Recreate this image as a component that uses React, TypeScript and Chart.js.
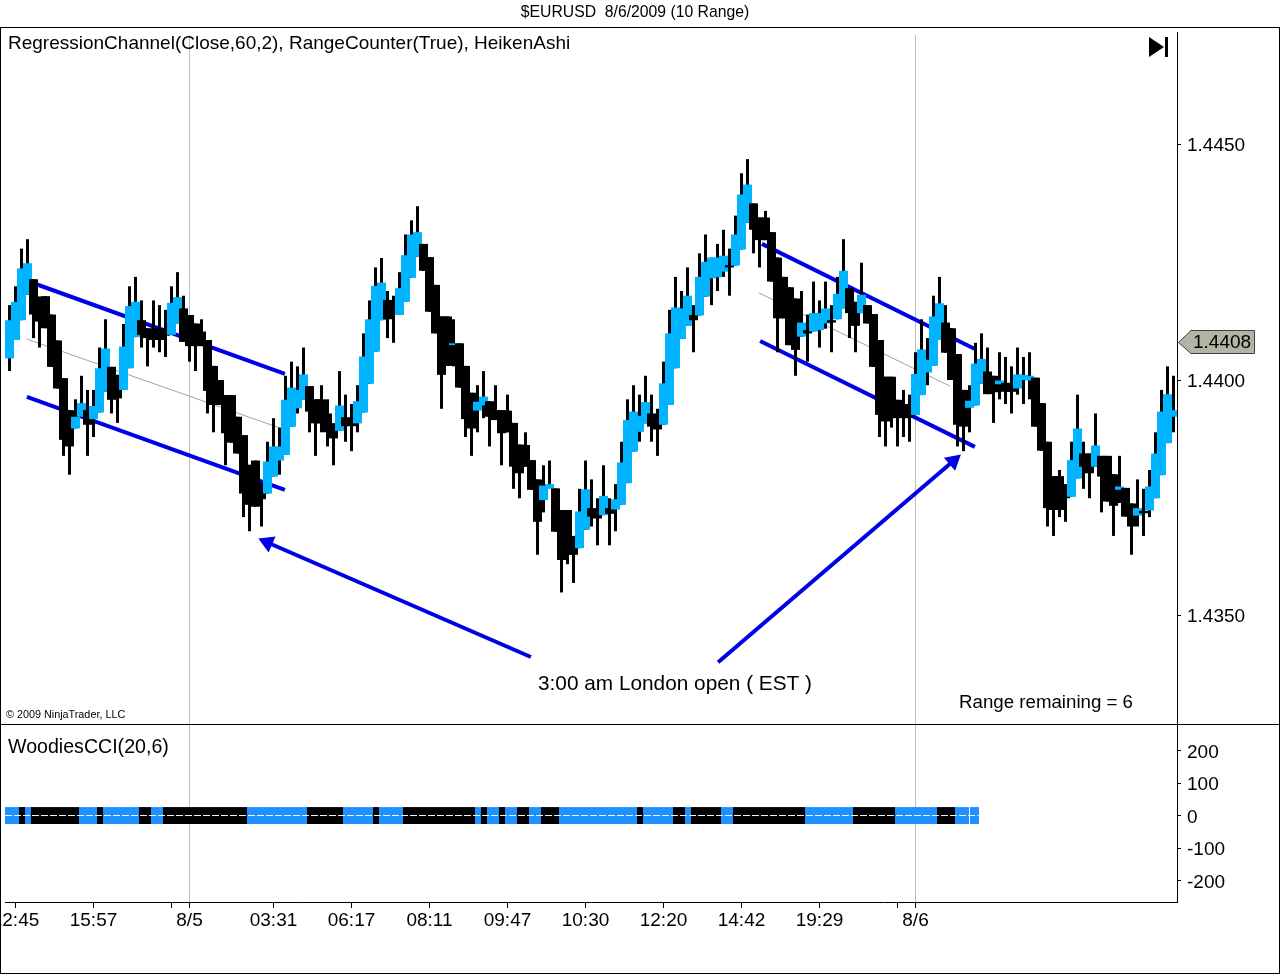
import { useEffect, useRef } from "react";
import { Chart, registerables } from "chart.js";

Chart.register(...registerables);

// all price series are in pips from 1.4400, one entry per range bar
const highs = [
  16, 20, 28, 30, 21.5, 17.8, 17.9, 14, 8.5, 0.5, -6.3, -4, 1, -2, -2, 7, 13, 2.9, 1.2, 12,
  20, 22, 17, 11.1, 17, 16, 15, 20, 23, 18, 13.9, 12.1, 13, 8.6, 3.1, 0.1, -3.1, -3.1, -7.7, -11.6,
  -17.9, -17, -21.8, -13, -8, -10, 1, 4, 3, 7, -1.2, -4, -1, -4, -9.1, 2, -3, -5, -1, 10,
  17, 24, 26, 19, 18, 23, 31, 34, 37, 29, 26.2, 20.3, 13.6, 13.6, 13, 7.9, 3.1, -2.6, -1, 2,
  -4.4, -1, -6.3, -3, -9, -13.6, -11, -16.9, -21, -18, -17, -22.9, -27.5, -27.5, -33, -23, -17, -21, -25, -18,
  -25, -22, -13, -4, -1, -3, 1, -3, -6, 4, 15, 22, 19, 24, 16, 27, 31, 26.1, 29, 32,
  28, 35, 44, 47, 37.6, 34.6, 36, 31.5, 26.1, 22, 19.8, 17.4, 19, 14, 21, 17, 21, 16, 22, 30,
  19.6, 16.7, 25, 16, 14.1, 8.6, 0.8, 0.8, -4.1, -2, -3, 6, 13, 9, 18, 22, 16, 11.1, 5.6, -2,
  -1, 8, 10, 7, 1, 6, 5, 3, 7, 5, 6, 0.6, -4.8, -13, -20.3, -19, -22, -13, -3, -13,
  -15.5, -7, -16, -16, -19.9, -16, -22.8, -26.1, -21, -23, -19, -11, -2, 3, 1,
];
const lows = [
  2, 8.6, 12.8, 18.2, 9, 7, 11.1, 2.9, -1.7, -16, -20, -10.2, -7.7, -16, -12, -6.8, -2.4, -7, -9, -2,
  2.6, 9.2, 7, 3, 7, 6, 5, 9.7, 12.1, 8.2, 4, 2, 7.3, -7, -11, -5.2, -18, -13.2, -15.5, -29,
  -32, -26.8, -31, -24, -20.4, -20, -15.8, -9.8, -7, -4.1, -11, -16, -11, -14, -18, -10.7, -13, -15, -11, -6.8,
  -0.7, 6.1, 12.8, 9, 8, 13.9, 16.7, 21.8, 26.3, 23.3, 14.6, 10, -6, 3.1, 3, -1.5, -12, -16, -11, -8,
  -14, -8.4, -18, -11, -23, -25, -18.3, -23.2, -37, -28, -22.9, -32.1, -45, -39, -43, -35.6, -31.7, -31, -35, -28.6,
  -35, -32, -26.4, -21.8, -15.1, -13, -9.1, -13, -16, -9.4, -5.2, 2.6, 8.8, 11.6, 6, 13.8, 17.8, 16, 19, 22,
  18, 24.4, 27.8, 33.5, 27, 24, 29.8, 21, 6, 13.2, 7.5, 1, 9.3, 4, 10.4, 7, 11, 6, 13, 15.3,
  9, 6, 14.3, 12.1, 2.9, -12, -14, -10, -14, -12, -13, -7.3, -3.1, -1, 3.1, 8.6, 5.9, 0.1, -14, -15,
  -11, -5.3, -0.7, -2.9, -9, -4, -5, -7, -3, -5, -4, -9.8, -14.9, -31, -33, -29, -30, -24.7, -20.8, -23,
  -25, -18.3, -28, -25.7, -33, -26, -28.9, -37, -31, -33, -29, -25, -20.1, -13.3, -11,
];
const opens = [
  4.7, 8.6, 12.8, 18.2, 21.5, 17.8, 17.9, 14, 8.5, 0.5, -6.3, -10.2, -7.7, -6.3, -8.2, -6.8, -2.4, 2.9, 1.2, -2,
  2.6, 9.2, 12.8, 11.1, 10.4, 11.1, 10, 9.7, 12.1, 15.3, 13.9, 12.1, 10.4, 8.6, 3.1, 0.1, -3.1, -3.1, -7.7, -11.6,
  -17.9, -17, -21.8, -24, -20.4, -17, -15.8, -9.8, -5.9, -4.1, -1.2, -4, -4, -7, -9.1, -10.7, -7.8, -8, -9.1, -6.8,
  -0.7, 6.1, 12.8, 17.1, 17.1, 13.9, 16.7, 21.8, 26.3, 29, 26.2, 20.3, 13.6, 13.6, 7.5, 7.9, 3.1, -2.6, -6.4, -5.3,
  -4.4, -6.3, -6.3, -6.4, -9, -13.6, -13.7, -16.9, -21, -25.4, -22.9, -22.9, -27.5, -27.5, -33, -35.6, -31.7, -27.1, -28.2, -28.6,
  -27.1, -27.4, -26.4, -21.8, -15.1, -10.9, -9.1, -7, -7.3, -9.4, -5.2, 2.6, 8.8, 11.6, 13.9, 13.8, 17.8, 21.7, 21.9, 23.1,
  24.5, 24.4, 27.8, 33.5, 37.6, 34.6, 34.6, 31.5, 26.1, 22, 19.8, 17.4, 9.3, 10.7, 10.4, 10.7, 12.1, 12.8, 13, 15.3,
  19.6, 16.7, 14.3, 16, 14.1, 8.6, 0.8, 0.8, -4.1, -5, -5.9, -7.3, -3.1, 1.7, 3.1, 8.6, 12.3, 11.1, 5.6, -2,
  -5.8, -5.3, -0.7, 1.9, 1, -0.8, -0.5, -0.5, -1.7, 0.1, 0, 0.6, -4.8, -13, -20.3, -20.3, -24.2, -24.7, -20.8, -15.5,
  -15.5, -18.3, -16, -16, -19.9, -23.2, -22.8, -26.1, -28.7, -27.7, -27.6, -25, -20.1, -13.3, -7.7,
];
const closes = [
  12.8, 16.7, 23.8, 24.9, 14, 12.5, 11.1, 2.9, -1.7, -12.6, -14, -7.7, -4.8, -9.4, -5.4, 2.6, 6.8, -4.1, -3.8, 7.2,
  15.8, 16.7, 9.7, 9, 8.6, 8.6, 9.5, 16.5, 17.7, 8.2, 7.3, 7.3, 7.3, -2.2, -5.2, -5.2, -11.2, -13.2, -15.5, -24,
  -26.4, -26.8, -25.2, -17.2, -14, -14, -4.1, -1.5, -2, 1.3, -6.6, -9.1, -9.1, -11, -12.3, -5.3, -9.7, -9.7, -4.4, 5.1,
  13, 20.1, 20.8, 13, 13.9, 19.6, 26.6, 31, 31.5, 23.3, 14.6, 10, 1.2, 3.1, 7.9, -1.5, -8.2, -10.2, -4.5, -3.4,
  -7.7, -8.4, -11.2, -11, -18.3, -19.7, -18.3, -23.2, -30, -22.3, -22, -32.1, -38.1, -37, -37, -27.8, -23.1, -28.9, -29.3, -24.5,
  -28.3, -25.2, -17.4, -8.4, -6.6, -7.5, -4.6, -9.8, -10.4, -0.6, 10, 15.5, 15.3, 18, 12.8, 22, 25.2, 26.1, 26.1, 26.5,
  24, 31, 39.5, 41.6, 32, 29.8, 29.8, 21, 13.2, 13.2, 7.5, 6.5, 12.3, 10, 14.3, 14.3, 15.3, 12.3, 18.4, 23.3,
  14.3, 11.6, 18.2, 12.1, 2.9, -7.3, -8.7, -8, -7.7, -8, -7.7, 1.4, 6.6, 4.4, 13.6, 16.4, 5.9, 0.1, -9.4, -9.8,
  -4.3, 3.6, 4.6, -2.9, -2.5, 0, -2.4, -2.4, 1.3, 1.2, 1, -9.8, -14.9, -27.1, -27.5, -27.5, -25, -16.9, -10.2, -18.3,
  -19.7, -13.8, -20.4, -25.7, -26.6, -22.5, -28.9, -31, -27.1, -28.2, -22.5, -15.5, -6.6, -2.9, -6.3,
];

// [bar index, pips] end points of the hand drawn lines
const channelUpperLeft = [[3.9, 20.7], [45.9, 1.4]];
const channelMiddleLeft = [[2.9, 8.8], [45.1, -10.1]];
const channelLowerLeft = [[2.9, -3.5], [45.9, -23.2]];
const channelUpperRight = [[125.4, 29], [160.9, 6.7]];
const channelMiddleRight = [[124.9, 18.6], [156.75, -1.2]];
const channelLowerRight = [[125.1, 8.4], [160.9, -14.1]];
const arrowLeft = [[86.9, -58.7], [43, -34.4]];
const arrowRight = [[118.1, -59.8], [157.3, -17.1]];

const priceTicks = [1.435, 1.44, 1.445];
const lastPrice = 1.4408;

// CCI histogram: run lengths, alternating blue / black, starting at bar -1
const cciRuns = [3, 1, 1, 8, 3, 1, 6, 2, 2, 14, 10, 6, 5, 1, 4, 12, 1, 1, 2, 1, 2, 2, 2, 3, 13, 1, 5, 2, 1, 5, 2, 12, 8, 7, 7, 3, 4];
const cciTicks = [-200, -100, 0, 100, 200];
const cciBandHalf = 26;
const cciLastBar = 161;
const cciCursorBar = 160;

const timeTicks = [1, 14, 27, 30, 44, 57, 70, 83, 96, 109, 122, 135, 148, 151];
const timeLabels = ["12:45", "15:57", "", "8/5", "03:31", "06:17", "08:11", "09:47", "10:30", "12:20", "14:42", "19:29", "", "8/6"];
const dateBars = [30, 151];

const FONT = '"Liberation Sans", Arial, sans-serif';
const UP = "#00B4FF";
const CCI_UP = "#1E90FF";
const LINE_BLUE = "#0000E6";
const X_MIN = -0.75;
const X_MAX = 194.5833;

const toPrice = (pips: number) => 1.44 + pips / 10000;
const asPoints = (pts: number[][]) => pts.map(([x, y]) => ({ x, y: toPrice(y) }));

const lineSet = (pts: number[][], width: number, color: string) => ({
  type: "line" as const,
  data: asPoints(pts),
  borderColor: color,
  borderWidth: width,
  pointRadius: 0,
  order: 3,
});

const arrowSet = (pts: number[][], rotation: number) => ({
  type: "line" as const,
  data: asPoints(pts),
  borderColor: LINE_BLUE,
  borderWidth: 4,
  pointRadius: [0, 10],
  pointStyle: "triangle",
  pointRotation: rotation,
  pointBackgroundColor: LINE_BLUE,
  pointBorderWidth: 0,
  order: 0,
});

const dateLines = (top: number) => ({
  id: "dateLines",
  beforeDatasetsDraw(chart: any) {
    const { ctx, scales, chartArea } = chart;
    ctx.save();
    ctx.strokeStyle = "#BEBEBE";
    ctx.lineWidth = 1;
    dateBars.forEach((bar) => {
      const x = Math.floor(scales.x.getPixelForValue(bar)) + 0.5;
      ctx.beginPath();
      ctx.moveTo(x, top);
      ctx.lineTo(x, chartArea.bottom);
      ctx.stroke();
    });
    ctx.restore();
  },
});

const label = (ctx: CanvasRenderingContext2D, text: string, x: number, y: number, size = 19, align: CanvasTextAlign = "left") => {
  ctx.font = `${size}px ${FONT}`;
  ctx.fillStyle = "#000";
  ctx.textAlign = align;
  ctx.textBaseline = "middle";
  ctx.fillText(text, x, y);
};

const priceNotes = {
  id: "priceNotes",
  afterDraw(chart: any) {
    const { ctx, scales } = chart;
    ctx.save();
    label(ctx, "$EURUSD  8/6/2009 (10 Range)", 635, 13, 15.75, "center");
    label(ctx, "RegressionChannel(Close,60,2), RangeCounter(True), HeikenAshi", 8, 44);
    label(ctx, "3:00 am London open ( EST )", 538, 684, 20.8);
    label(ctx, "Range remaining = 6", 959, 703, 18.7);
    label(ctx, "© 2009 NinjaTrader, LLC", 6, 715, 10.8);

    // jump to last bar icon
    ctx.fillStyle = "#000";
    ctx.beginPath();
    ctx.moveTo(1149, 37);
    ctx.lineTo(1164, 47);
    ctx.lineTo(1149, 57);
    ctx.closePath();
    ctx.fill();
    ctx.fillRect(1165, 37, 3, 20);

    // last price tag
    const y = Math.round(scales.y.getPixelForValue(lastPrice));
    ctx.beginPath();
    ctx.moveTo(1178.5, y - 0.5);
    ctx.lineTo(1191, y - 12.5);
    ctx.lineTo(1254.5, y - 12.5);
    ctx.lineTo(1254.5, y + 10.5);
    ctx.lineTo(1191, y + 10.5);
    ctx.closePath();
    ctx.fillStyle = "#B4B4A4";
    ctx.fill();
    ctx.strokeStyle = "#404040";
    ctx.lineWidth = 1;
    ctx.stroke();
    label(ctx, lastPrice.toFixed(4), 1193, y);
    ctx.restore();
  },
};

const cciNotes = {
  id: "cciNotes",
  afterDraw(chart: any) {
    const { ctx } = chart;
    ctx.save();
    label(ctx, "WoodiesCCI(20,6)", 8, 23, 19.6);
    ctx.restore();
  },
};

// the axes keep a fixed size and let their labels overhang the chart area
const dropPadding = (s: any) => {
  s.paddingTop = 0;
  s.paddingBottom = 0;
  s.paddingLeft = 0;
  s.paddingRight = 0;
};
const fitRightAxis = (s: any) => {
  s.width = 103;
  dropPadding(s);
};

const App = () => {
  const priceRef = useRef<null | HTMLCanvasElement>(null);
  const cciRef = useRef<null | HTMLCanvasElement>(null);

  useEffect(() => {
    if (!priceRef.current || !cciRef.current) return;

    const priceChart = new Chart(priceRef.current, {
      type: "bar",
      data: {
        datasets: [
          lineSet(channelUpperLeft, 4, LINE_BLUE),
          lineSet(channelLowerLeft, 4, LINE_BLUE),
          lineSet(channelMiddleLeft, 1, "#A0A0A0"),
          lineSet(channelUpperRight, 4, LINE_BLUE),
          lineSet(channelLowerRight, 4, LINE_BLUE),
          lineSet(channelMiddleRight, 1, "#A0A0A0"),
          arrowSet(arrowLeft, -66.5),
          arrowSet(arrowRight, 49.5),
          {
            data: highs.map((h, i) => ({ x: i, y: [toPrice(lows[i]), toPrice(h)] })),
            backgroundColor: "#000",
            barThickness: 3,
            inflateAmount: 0,
            order: 2,
          },
          {
            data: opens.map((o, i) => ({ x: i, y: [toPrice(Math.min(o, closes[i])), toPrice(Math.max(o, closes[i]))] })),
            backgroundColor: opens.map((o, i) => (closes[i] >= o ? UP : "#000")),
            barThickness: 9,
            inflateAmount: 0,
            order: 1,
          },
        ] as any,
      },
      options: {
        animation: false,
        responsive: false,
        events: [],
        layout: { padding: { left: 5, top: 32 }, autoPadding: false },
        datasets: { bar: { grouped: false } },
        plugins: { legend: { display: false }, tooltip: { enabled: false } },
        scales: {
          x: {
            type: "linear",
            offset: false,
            min: X_MIN,
            max: X_MAX,
            afterFit: (s: any) => {
              s.height = 0;
              dropPadding(s);
            },
            border: { display: false },
            grid: { display: false },
            ticks: { display: false },
          },
          y: {
            position: "right",
            min: toPrice(-72.93),
            max: toPrice(73.99),
            afterFit: fitRightAxis,
            afterBuildTicks: (s: any) => {
              s.ticks = priceTicks.map((value) => ({ value }));
            },
            border: { display: true, color: "#000" },
            grid: { drawOnChartArea: false, tickLength: 4, tickColor: "#000" },
            ticks: {
              padding: 6,
              labelOffset: 1,
              color: "#000",
              font: { family: FONT, size: 19 },
              callback: (v: any) => Number(v).toFixed(4),
            },
          },
        },
      } as any,
      plugins: [dateLines(35), priceNotes],
    });

    let bar = -1;
    const cciX: number[] = [];
    const cciColors: string[] = [];
    cciRuns.forEach((run, r) => {
      for (let k = 0; k < run; k++) {
        cciX.push(bar++);
        cciColors.push(r % 2 === 0 ? CCI_UP : "#000");
      }
    });

    const cciChart = new Chart(cciRef.current, {
      type: "bar",
      data: {
        datasets: [
          {
            type: "line",
            data: [{ x: X_MIN, y: 0 }, { x: cciLastBar + 0.5, y: 0 }],
            borderColor: "#fff",
            borderWidth: 1,
            borderDash: [7, 2],
            pointRadius: 0,
            order: 0,
          },
          {
            data: [{ x: cciCursorBar, y: [-cciBandHalf, cciBandHalf] }],
            backgroundColor: "#fff",
            barThickness: 1,
            inflateAmount: 0,
            order: 1,
          },
          {
            data: cciX.map((x) => ({ x: x + 1 / 12, y: [-cciBandHalf, cciBandHalf] })),
            backgroundColor: cciColors,
            barThickness: 6,
            inflateAmount: 0,
            order: 2,
          },
        ] as any,
      },
      options: {
        animation: false,
        responsive: false,
        events: [],
        layout: { padding: { left: 5 }, autoPadding: false },
        datasets: { bar: { grouped: false } },
        plugins: { legend: { display: false }, tooltip: { enabled: false } },
        scales: {
          x: {
            type: "linear",
            offset: false,
            min: X_MIN,
            max: X_MAX,
            afterFit: (s: any) => {
              s.height = 72;
              dropPadding(s);
            },
            afterBuildTicks: (s: any) => {
              s.ticks = timeTicks.map((value) => ({ value }));
            },
            border: { display: true, color: "#000" },
            grid: { offset: false, drawOnChartArea: false, tickLength: 6, tickColor: "#000" },
            ticks: {
              autoSkip: false,
              maxRotation: 0,
              padding: 1,
              color: "#000",
              font: { family: FONT, size: 19 },
              callback: (_v: any, i: number) => timeLabels[i],
            },
          },
          y: {
            position: "right",
            min: -266,
            max: 278.5,
            afterFit: fitRightAxis,
            afterBuildTicks: (s: any) => {
              s.ticks = cciTicks.map((value) => ({ value }));
            },
            border: { display: true, color: "#000" },
            grid: { drawOnChartArea: false, tickLength: 4, tickColor: "#000" },
            ticks: {
              padding: 6,
              labelOffset: 2,
              color: "#000",
              font: { family: FONT, size: 19 },
              callback: (v: any) => String(v),
            },
          },
        },
      } as any,
      plugins: [dateLines(0), cciNotes],
    });

    return () => {
      priceChart.destroy();
      cciChart.destroy();
    };
  }, []);

  const rule = (left: number, top: number, width: number, height: number) => (
    <div style={{ position: "absolute", left, top, width, height, background: "#000" }} />
  );

  return (
    <div style={{ position: "absolute", left: 0, top: 0, width: 1280, height: 974, overflow: "hidden", background: "#fff" }}>
      {rule(0, 27, 1280, 1)}
      {rule(0, 724, 1280, 1)}
      {rule(0, 973, 1280, 1)}
      {rule(0, 27, 1, 947)}
      {rule(1279, 27, 1, 947)}
      <canvas ref={priceRef} width={1280} height={724} style={{ position: "absolute", left: 0, top: 0 }} />
      <canvas ref={cciRef} width={1280} height={249} style={{ position: "absolute", left: 0, top: 725 }} />
    </div>
  );
};

export default App;
